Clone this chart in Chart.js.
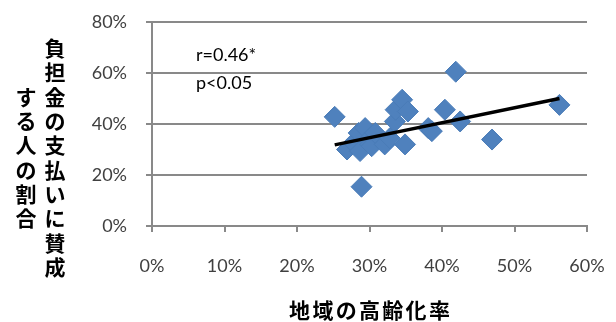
<!DOCTYPE html>
<html>
<head>
<meta charset="utf-8">
<script src="https://cdn.jsdelivr.net/npm/chart.js@4"></script>
<style>
  html, body { margin: 0; padding: 0; background: #fff; }
  #c { display: block; }
</style>
</head>
<body>
<canvas id="c" width="616" height="322"></canvas>
<script>
// 地域の高齢化率 (%) / 負担金の支払いに賛成する人の割合 (%)
const agingRate = [25.2, 26.9, 27.8, 28.5, 28.7, 28.9, 29.4, 30.1, 30.1, 30.3, 30.8, 32.1, 32.8, 33.5, 33.6, 34.5, 34.9, 35.3, 38.1, 38.6, 40.4, 41.9, 42.5, 46.9, 56.2]
const approveRate = [42.8, 30.0, 32.6, 36.5, 29.4, 15.4, 38.4, 34.5, 32.0, 31.3, 36.5, 32.0, 34.4, 41.0, 45.6, 49.5, 32.0, 44.9, 38.4, 37.2, 45.6, 60.5, 41.0, 33.9, 47.5]

// trend line ends
const trendX = [25.2, 56.2]
const trendY = [31.8, 50.0]

const xTicks = [0, 10, 20, 30, 40, 50, 60]
const yTicks = [0, 20, 40, 60, 80]

const xTitle = '地域の高齢化率'
const yTitleRight = '負担金の支払いに賛成'
const yTitleLeft = 'する人の割合'
const notes = ['r=0.46*', 'p<0.05']

const gray = '#898989'
const tickFont = { family: 'Lato, "Open Sans", sans-serif', size: 18 }

const textPlugin = {
    id: 'texts',
    afterDraw(chart) {
        const ctx = chart.ctx
        const area = chart.chartArea
        ctx.save()
        ctx.fillStyle = '#000'

        // r / p notes
        ctx.font = '18px Lato, "Open Sans", sans-serif'
        ctx.textAlign = 'left'
        ctx.textBaseline = 'middle'
        ctx.fillText(notes[0], 196, 55)
        ctx.fillText(notes[1], 196, 83)

        // titles, drawn one character at a time
        ctx.font = 'bold 21px "Noto Sans CJK JP", sans-serif'
        ctx.textAlign = 'center'
        const step = 24.3
        const midY = 157.5
        let chars = [...yTitleRight]
        chars.forEach((ch, i) => {
            ctx.fillText(ch, 55, midY + (i - (chars.length - 1) / 2) * step)
        })
        chars = [...yTitleLeft]
        chars.forEach((ch, i) => {
            ctx.fillText(ch, 26, midY + (i - (chars.length - 1) / 2) * step)
        })

        chars = [...xTitle]
        const xStep = 23.3
        const midX = (area.left + area.right) / 2
        chars.forEach((ch, i) => {
            ctx.fillText(ch, midX + (i - (chars.length - 1) / 2) * xStep, 310)
        })
        ctx.restore()
    }
}

new Chart(document.getElementById('c'), {
    type: 'scatter',
    data: {
        datasets: [
            {
                label: 'data',
                data: agingRate.map((x, i) => ({ x: x, y: approveRate[i] })),
                pointStyle: 'rectRot',
                pointRadius: 10.5,
                backgroundColor: '#4f81bd',
                borderColor: '#4a7cb8',
                borderWidth: 1,
                order: 2
            },
            {
                type: 'line',
                label: 'trend',
                data: trendX.map((x, i) => ({ x: x, y: trendY[i] })),
                borderColor: '#000',
                borderWidth: 3.5,
                pointRadius: 0,
                fill: false,
                order: 1
            }
        ]
    },
    options: {
        responsive: false,
        animation: false,
        layout: { padding: { top: 22, right: 29, left: 0, bottom: 0 } },
        plugins: {
            legend: { display: false },
            tooltip: { enabled: false }
        },
        scales: {
            x: {
                type: 'linear',
                min: 0,
                max: 60,
                afterBuildTicks(scale) { scale.ticks = xTicks.map(v => ({ value: v })) },
                afterFit(scale) {
                    scale.height = 96
                    scale.paddingLeft = 0
                    scale.paddingRight = 0
                },
                grid: { drawOnChartArea: false, color: gray, lineWidth: 2, tickLength: 6 },
                border: { display: true, color: gray, width: 2 },
                ticks: { color: '#404040', font: tickFont, padding: 23, maxRotation: 0, callback: v => v + '%' }
            },
            y: {
                type: 'linear',
                min: 0,
                max: 80,
                afterBuildTicks(scale) { scale.ticks = yTicks.map(v => ({ value: v })) },
                afterFit(scale) {
                    scale.width = 152
                    scale.paddingTop = 0
                    scale.paddingBottom = 0
                },
                grid: { color: gray, lineWidth: 2, tickLength: 6 },
                border: { display: true, color: gray, width: 2 },
                ticks: { color: '#404040', font: tickFont, padding: 19, callback: v => v + '%' }
            }
        }
    },
    plugins: [textPlugin]
})
</script>
</body>
</html>
